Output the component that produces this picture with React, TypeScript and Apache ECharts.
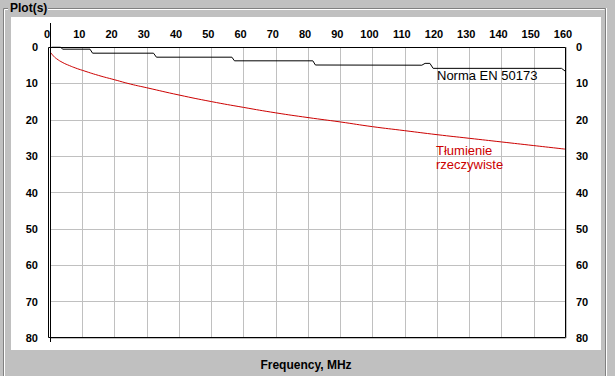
import React, { useEffect, useRef } from "react";
import * as echarts from "echarts";

// Norma EN 50173 limit (MHz, dB)
const normFreq = [0.5, 3.3, 3.9, 12.4, 13.2, 32.1, 33.0, 56.4, 57.2, 81.5, 82.3, 115.3, 116.3, 117.8, 118.8, 158.6, 160];
const normAtt = [0, 0, 0.6, 0.6, 1.7, 1.7, 2.8, 2.8, 3.8, 3.8, 4.95, 5.0, 4.5, 4.5, 5.87, 5.87, 6.8];

// Tłumienie rzeczywiste (MHz, dB)
const realFreq = [0.3, 1, 2, 4, 6, 8, 10, 15, 20, 25, 30, 40, 50, 60, 70, 80, 90, 100, 110, 120, 130, 140, 150, 160];
const realAtt = [1.6, 2.4, 3.2, 4.3, 5.1, 5.8, 6.4, 7.8, 9.0, 10.2, 11.2, 13.2, 15.0, 16.6, 18.1, 19.4, 20.6, 21.9, 23.0, 24.1, 25.1, 26.1, 27.1, 28.1];

const xMin = 0;
const xMax = 160;
const xStep = 10;
const yMin = 0;
const yMax = 80;
const yStep = 10;

const FONT = 'Arial, "Liberation Sans", sans-serif';

export default function App() {
  const ref = useRef<HTMLDivElement>(null);
  useEffect(() => {
    if (!ref.current) return;
    const chart = echarts.init(ref.current, null, { renderer: "svg" });
    const labelStyle = {
      fontFamily: FONT,
      fontWeight: "bold" as const,
      fontSize: 11,
      color: "#000",
    };
    const option: any = {
      animation: false,
      backgroundColor: "#c0c0c0",
      grid: { left: 50, right: 49, top: 47, bottom: 38, containLabel: false },
      xAxis: {
        type: "value",
        position: "top",
        min: xMin,
        max: xMax,
        interval: xStep,
        axisLine: { show: false },
        axisTick: { show: false },
        axisLabel: { ...labelStyle, margin: 8, padding: [0, 6, 0, 0] },
        splitLine: { show: true, lineStyle: { color: "#c0c0c0", width: 1 } },
      },
      yAxis: [
        {
          type: "value",
          inverse: true,
          position: "left",
          min: yMin,
          max: yMax,
          interval: yStep,
          axisLine: { show: false },
          axisTick: { show: false },
          axisLabel: { ...labelStyle, margin: 12 },
          splitLine: { show: true, lineStyle: { color: "#c0c0c0", width: 1 } },
        },
        {
          type: "value",
          inverse: true,
          position: "right",
          min: yMin,
          max: yMax,
          interval: yStep,
          axisLine: { show: false },
          axisTick: { show: false },
          axisLabel: { ...labelStyle, margin: 10 },
          splitLine: { show: false },
        },
      ],
      series: [
        {
          name: "Norma EN 50173",
          type: "line",
          data: normFreq.map((f, i) => [f, normAtt[i]]),
          symbol: "none",
          lineStyle: { color: "#000000", width: 1 },
          z: 4,
        },
        {
          name: "Tłumienie rzeczywiste",
          type: "line",
          smooth: true,
          data: realFreq.map((f, i) => [f, realAtt[i]]),
          symbol: "none",
          lineStyle: { color: "#cc0000", width: 1 },
          z: 3,
        },
      ],
      graphic: [
        // white panel
        { type: "rect", z: -100, shape: { x: 11, y: 17, width: 590, height: 333 }, style: { fill: "#ffffff" } },
        // group box border (dark + light)
        { type: "polyline", z: -90, shape: { points: [[3.5, 376], [3.5, 8.5], [605.5, 8.5], [605.5, 376]] }, style: { stroke: "#808080", fill: null, lineWidth: 1 } },
        { type: "polyline", z: -90, shape: { points: [[4.5, 376], [4.5, 9.5], [604.5, 9.5]] }, style: { stroke: "#ffffff", fill: null, lineWidth: 1 } },
        { type: "line", z: -90, shape: { x1: 606.5, y1: 8, x2: 606.5, y2: 376 }, style: { stroke: "#ffffff", lineWidth: 1 } },
        { type: "rect", z: -85, shape: { x: 8, y: 2, width: 40, height: 12 }, style: { fill: "#c0c0c0" } },
        { type: "text", z: 10, x: 10, y: 2, style: { text: "Plot(s)", font: `bold 12px ${FONT}`, fill: "#000", align: "left", verticalAlign: "top" } },
        // plot frame
        { type: "rect", z: 50, shape: { x: 48.5, y: 47.5, width: 517, height: 290 }, style: { stroke: "#000", fill: null, lineWidth: 1 } },
        { type: "line", z: 50, shape: { x1: 50.5, y1: 23, x2: 50.5, y2: 342 }, style: { stroke: "#000", lineWidth: 1 } },
        // annotations
        { type: "text", z: 10, x: 437, y: 69, style: { text: "Norma EN 50173", font: `13px ${FONT}`, fill: "#000", align: "left", verticalAlign: "top" } },
        { type: "text", z: 10, x: 436, y: 144, style: { text: "Tłumienie", font: `13px ${FONT}`, fill: "#cc0000", align: "left", verticalAlign: "top" } },
        { type: "text", z: 10, x: 436, y: 157.5, style: { text: "rzeczywiste", font: `13px ${FONT}`, fill: "#cc0000", align: "left", verticalAlign: "top" } },
        // axis title
        { type: "text", z: 10, x: 306, y: 365, style: { text: "Frequency, MHz", font: `bold 12px ${FONT}`, fill: "#000", align: "center", verticalAlign: "middle" } },
      ],
    };
    chart.setOption(option);
    return () => chart.dispose();
  }, []);
  return (
    <div
      ref={ref}
      style={{ position: "absolute", left: 0, top: 0, width: 615, height: 376 }}
    />
  );
}
